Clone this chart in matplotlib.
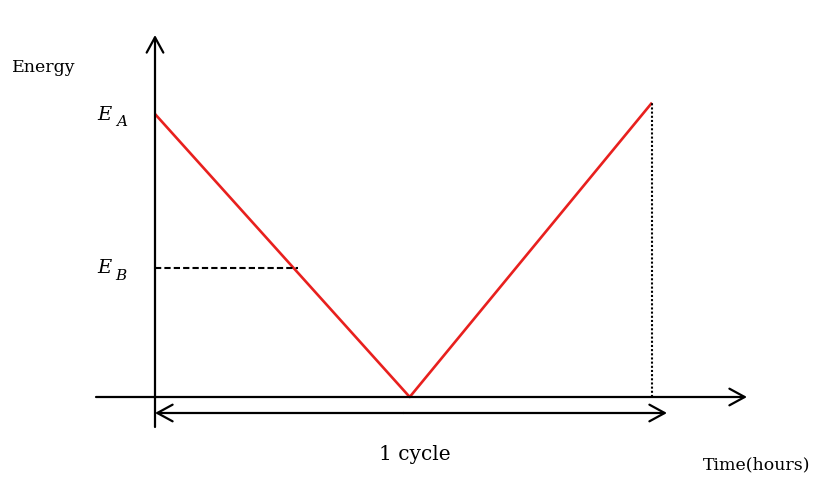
import matplotlib
matplotlib.use("Agg")
import matplotlib.pyplot as plt

plt.rcParams["mathtext.fontset"] = "dejavuserif"

# 数据：一个循环内的能量变化（时间单位：小时，能量为相对值）
cycle_time = [0.0, 12.3, 24.0]
energy = [1.0, 0.0, 1.04]
E_A = 1.0
E_B = 0.456
eb_time = 6.9          # E_B 虚线的终点
cycle_len = 24.0

fig = plt.figure(figsize=(8.32, 4.8), dpi=100)
ax = fig.add_axes([0, 0, 1, 1])
# 像素与数据的对应关系：t=0 -> x=155px, t=24 -> x=652px; E=0 -> y=397px, E=1 -> y=114px
px_t = (652 - 155) / cycle_len
px_e = 397 - 114
ax.set_xlim(-155 / px_t, (832 - 155) / px_t)
ax.set_ylim(-(480 - 397) / px_e, 397 / px_e)
ax.axis("off")

serif = ["DejaVu Serif"]
arrow = dict(arrowstyle="->, head_length=0.55, head_width=0.3", color="black",
             lw=1.6, mutation_scale=20, shrinkA=0, shrinkB=0)

# 坐标轴
ax.annotate("", xy=((747 - 155) / px_t, 0), xytext=((96 - 155) / px_t, 0), arrowprops=arrow)
ax.annotate("", xy=(0, (397 - 35) / px_e), xytext=(0, -(427 - 397) / px_e), arrowprops=arrow)

# 能量曲线
ax.plot(cycle_time, energy, color="#e8201e", lw=1.9, solid_capstyle="butt")

# 辅助线
ax.plot([0, eb_time], [E_B, E_B], color="black", lw=1.5, ls=(0, (3, 1.5)))
ax.plot([cycle_time[-1], cycle_time[-1]], [0, energy[-1]], color="black", lw=1.5, ls=(0, (1, 1)))

# 一个循环的双向箭头
y_cyc = -(413 - 397) / px_e
ax.annotate("", xy=(0, y_cyc), xytext=(cycle_len / 2, y_cyc), arrowprops=arrow)
ax.annotate("", xy=((667 - 155) / px_t, y_cyc), xytext=(cycle_len / 2, y_cyc), arrowprops=arrow)

# 文字
ax.text(-143 / px_t, (397 - 67) / px_e, "Energy", family=serif, fontsize=12.5, va="center", ha="left")
ax.text(-58 / px_t, E_A, "$E$", fontsize=14, va="center", ha="left")
ax.text(-40 / px_t, E_A - 8 / px_e, "$A$", fontsize=11, va="center", ha="left")
ax.text(-58 / px_t, E_B, "$E$", fontsize=14, va="center", ha="left")
ax.text(-40 / px_t, E_B - 8 / px_e, "$B$", fontsize=11, va="center", ha="left")
ax.text(cycle_time[1] + 5 / px_t, -(455 - 397) / px_e, "1 cycle", family=serif, fontsize=14.5,
        va="center", ha="center")
ax.text((757 - 155) / px_t, -(465 - 397) / px_e, "Time(hours)", family=serif, fontsize=12.5,
        va="center", ha="center")

fig.savefig("out.png", dpi=100, facecolor="white")
